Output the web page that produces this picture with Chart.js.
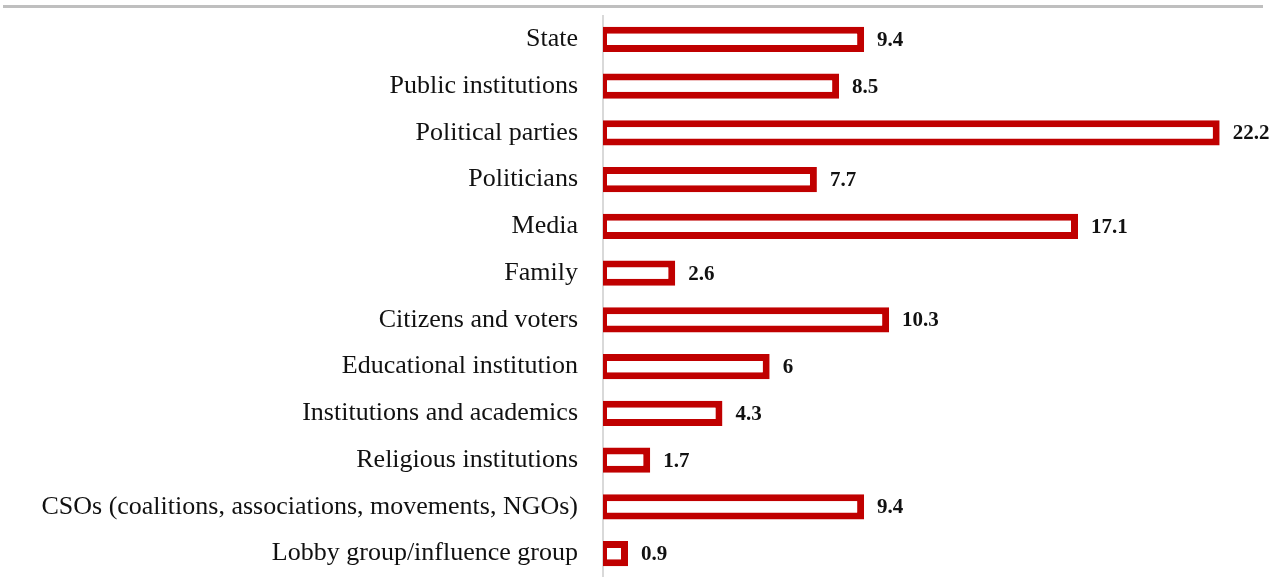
<!DOCTYPE html>
<html>
<head>
<meta charset="utf-8">
<script src="https://cdn.jsdelivr.net/npm/chart.js@4"></script>
<style>
    html, body { margin: 0; padding: 0; background: #fff; }
    #wrap { position: relative; width: 1278px; height: 577px; }
    #topRule { position: absolute; left: 3px; top: 5px; width: 1260px; height: 3px; background: #bfbfbf; }
    #chartBox { position: absolute; left: 0; top: 0; width: 1278px; height: 577px; }
</style>
</head>
<body>
<div id="wrap">
    <div id="topRule"></div>
    <div id="chartBox"><canvas id="canvasActors"></canvas></div>
</div>
<script>
var categories = [
    "State",
    "Public institutions",
    "Political parties",
    "Politicians",
    "Media",
    "Family",
    "Citizens and voters",
    "Educational institution",
    "Institutions and academics",
    "Religious institutions",
    "CSOs (coalitions, associations, movements, NGOs)",
    "Lobby group/influence group"
];
var shares = [9.4, 8.5, 22.2, 7.7, 17.1, 2.6, 10.3, 6, 4.3, 1.7, 9.4, 0.9];
var shareLabels = ["9.4", "8.5", "22.2", "7.7", "17.1", "2.6", "10.3", "6", "4.3", "1.7", "9.4", "0.9"];

var barRed = "#c00000";

// value labels after each bar (no datalabels plugin here)
var valueLabels = {
    id: "valueLabels",
    afterDatasetsDraw: function (chart) {
        let ctx = chart.ctx;
        let meta = chart.getDatasetMeta(0);
        ctx.save();
        ctx.font = "bold 21px 'Liberation Serif', serif";
        ctx.fillStyle = "#111";
        ctx.textBaseline = "middle";
        ctx.textAlign = "left";
        meta.data.forEach(function (bar, i) {
            ctx.fillText(shareLabels[i], bar.x + 13, bar.y + 1);
        });
        ctx.restore();
    }
};

function drawChart() {
    var config = {
        type: 'bar',
        data: {
            labels: categories,
            datasets: [{
                data: shares,
                backgroundColor: '#ffffff',
                borderColor: barRed,
                borderWidth: { top: 7, bottom: 7, right: 7, left: 4 },
                borderSkipped: false,
                categoryPercentage: 1,
                barPercentage: 0.54
            }]
        },
        options: {
            indexAxis: 'y',
            animation: false,
            responsive: true,
            maintainAspectRatio: false,
            layout: { padding: { top: 16, right: 0, bottom: 0, left: 0 } },
            scales: {
                x: {
                    min: 0,
                    max: 24.3,
                    display: false
                },
                y: {
                    afterFit: function (scale) {
                        scale.width = 603;
                        scale.paddingTop = 0;
                        scale.paddingBottom = 0;
                    },
                    grid: { display: false, drawTicks: false },
                    border: { display: true, color: '#d9d9d9', width: 2 },
                    ticks: {
                        color: '#111',
                        padding: 25,
                        font: { family: "'Liberation Serif', serif", size: 26 }
                    }
                }
            },
            plugins: {
                legend: { display: false },
                title: { display: false },
                tooltip: { enabled: false }
            }
        },
        plugins: [valueLabels]
    };
    var ctx = document.getElementById("canvasActors").getContext("2d");
    new Chart(ctx, config);
}

drawChart();
</script>
</body>
</html>
